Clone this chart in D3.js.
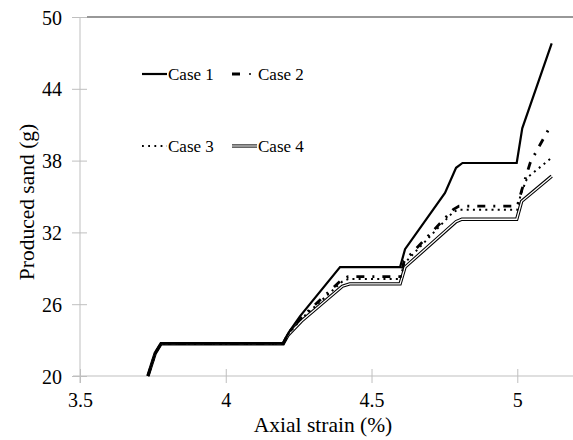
<script src="https://d3js.org/d3.v7.min.js"></script>
<style>
  body { margin: 0; background: #fff; }
  svg text { font-family: 'Liberation Serif', 'DejaVu Serif', serif !important; fill: #000; }
</style>
<body>
<svg width="573" height="440"></svg>
<script>
    // values
    const xTicks = [3.5, 4, 4.5, 5];
    const yTicks = [20, 26, 32, 38, 44, 50];

    const case1X = [3.733, 3.758, 3.778, 4.197, 4.215, 4.255, 4.392, 4.598, 4.615, 4.752, 4.790, 4.812, 4.998, 5.017, 5.118];
    const case1Y = [20, 21.9, 22.7, 22.7, 23.6, 25.0, 29.1, 29.1, 30.6, 35.3, 37.4, 37.8, 37.8, 40.7, 47.8];

    const case2X = [3.733, 3.758, 3.778, 4.197, 4.215, 4.26, 4.40, 4.42, 4.598, 4.612, 4.78, 4.80, 5.0, 5.015, 5.044, 5.066, 5.112];
    const case2Y = [20, 21.9, 22.7, 22.7, 23.6, 24.9, 28.1, 28.3, 28.3, 29.6, 33.9, 34.2, 34.2, 35.5, 37.8, 38.8, 40.8];

    const case3X = [3.733, 3.758, 3.778, 4.197, 4.215, 4.26, 4.40, 4.42, 4.598, 4.612, 4.78, 4.80, 5.0, 5.012, 5.035, 5.116];
    const case3Y = [20, 21.9, 22.7, 22.7, 23.5, 24.8, 27.9, 28.1, 28.1, 29.4, 33.7, 33.9, 33.9, 35.2, 36.6, 38.2];

    const case4X = [3.733, 3.758, 3.778, 4.197, 4.213, 4.26, 4.40, 4.425, 4.598, 4.615, 4.79, 4.81, 4.998, 5.015, 5.118];
    const case4Y = [20, 21.9, 22.7, 22.7, 23.4, 24.6, 27.5, 27.7, 27.7, 29.1, 32.9, 33.1, 33.1, 34.6, 36.7];

    const svg = d3.select('svg');

    const x = d3.scaleLinear().domain([3.5, 5.2]).range([80, 575.6]);
    const y = d3.scaleLinear().domain([20, 50]).range([376, 17]);

    // axis lines (light gray, ticks cross the line)
    svg.append('line')
        .attr('x1', 73).attr('x2', 573)
        .attr('y1', y(20)).attr('y2', y(20))
        .attr('stroke', '#bfbfbf').attr('stroke-width', 1);
    svg.append('line')
        .attr('x1', x(3.5)).attr('x2', x(3.5))
        .attr('y1', y(50)).attr('y2', y(20) + 7)
        .attr('stroke', '#bfbfbf').attr('stroke-width', 1);

    // top border at 50
    svg.append('line')
        .attr('x1', 87).attr('x2', 573)
        .attr('y1', y(50)).attr('y2', y(50))
        .attr('stroke', '#333').attr('stroke-width', 1.2);

    const xAxis = svg.append('g')
        .attr('transform', `translate(0,${y(20)})`)
        .call(d3.axisBottom(x).tickValues(xTicks).tickSize(7).tickFormat(d3.format('')));
    xAxis.attr('font-family', null);
    xAxis.select('.domain').remove();
    xAxis.selectAll('line').attr('y1', -7).attr('stroke', '#bfbfbf');
    xAxis.selectAll('text')
        .attr('y', 31).attr('dy', null)
        .style('font-size', '20px').attr('fill', '#000');

    const yAxis = svg.append('g')
        .attr('transform', `translate(${x(3.5)},0)`)
        .call(d3.axisLeft(y).tickValues(yTicks).tickSize(8));
    yAxis.attr('font-family', null);
    yAxis.select('.domain').remove();
    yAxis.selectAll('line').attr('x2', 7).attr('x1', -8).attr('stroke', '#bfbfbf');
    yAxis.selectAll('text')
        .attr('x', -18).attr('dy', '0.35em')
        .style('font-size', '20px').attr('fill', '#000');

    // axis titles
    svg.append('text')
        .attr('x', 323).attr('y', 432)
        .attr('text-anchor', 'middle')
        .style('font-size', '21.5px')
        .text('Axial strain (%)');
    svg.append('text')
        .attr('transform', 'translate(34,202) rotate(-90)')
        .attr('text-anchor', 'middle')
        .style('font-size', '21.5px')
        .text('Produced sand (g)');

    const line = d3.line().x(d => x(d[0])).y(d => y(d[1]));
    const pts = (xs, ys) => xs.map((v, i) => [v, ys[i]]);

    // case 4: double line
    svg.append('path').attr('d', line(pts(case4X, case4Y)))
        .attr('fill', 'none').attr('stroke', '#000').attr('stroke-width', 3.4);
    svg.append('path').attr('d', line(pts(case4X, case4Y)))
        .attr('fill', 'none').attr('stroke', '#fff').attr('stroke-width', 1.3);

    // case 3: dotted
    svg.append('path').attr('d', line(pts(case3X, case3Y)))
        .attr('fill', 'none').attr('stroke', '#000').attr('stroke-width', 2)
        .attr('stroke-dasharray', '2,4.2');

    // case 2: long dash dot
    svg.append('path').attr('d', line(pts(case2X, case2Y)))
        .attr('fill', 'none').attr('stroke', '#000').attr('stroke-width', 2.8)
        .attr('stroke-dasharray', '8,8,2,8');

    // case 1: solid
    svg.append('path').attr('d', line(pts(case1X, case1Y)))
        .attr('fill', 'none').attr('stroke', '#000').attr('stroke-width', 2.2);

    // legend
    const legend = svg.append('g');
    legend.append('line').attr('x1', 142).attr('x2', 167).attr('y1', 74).attr('y2', 74)
        .attr('stroke', '#000').attr('stroke-width', 2.2);
    legend.append('text').attr('x', 168).attr('y', 80).style('font-size', '17px').text('Case 1');

    legend.append('line').attr('x1', 232).attr('x2', 240).attr('y1', 74).attr('y2', 74)
        .attr('stroke', '#000').attr('stroke-width', 3);
    legend.append('line').attr('x1', 249).attr('x2', 251).attr('y1', 74).attr('y2', 74)
        .attr('stroke', '#000').attr('stroke-width', 1.5);
    legend.append('text').attr('x', 258).attr('y', 80).style('font-size', '17px').text('Case 2');

    legend.append('line').attr('x1', 142).attr('x2', 167).attr('y1', 146).attr('y2', 146)
        .attr('stroke', '#000').attr('stroke-width', 1.8).attr('stroke-dasharray', '1.8,4.4');
    legend.append('text').attr('x', 168).attr('y', 152).style('font-size', '17px').text('Case 3');

    legend.append('line').attr('x1', 232).attr('x2', 257).attr('y1', 146).attr('y2', 146)
        .attr('stroke', '#000').attr('stroke-width', 3.2);
    legend.append('line').attr('x1', 232).attr('x2', 257).attr('y1', 146).attr('y2', 146)
        .attr('stroke', '#fff').attr('stroke-width', 1.2);
    legend.append('text').attr('x', 258).attr('y', 152).style('font-size', '17px').text('Case 4');
</script>
</body>
